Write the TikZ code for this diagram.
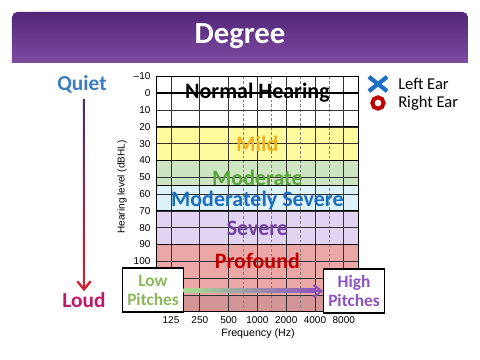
\documentclass[tikz,border=0pt]{standalone}
\usepackage{fontspec}
\setmainfont{Carlito}
\newfontfamily\arialfont{Liberation Sans}
\usetikzlibrary{arrows.meta,positioning,calc,shapes.misc}

\definecolor{titletop}{HTML}{522677}
\definecolor{titlebot}{HTML}{7E4BA1}
\definecolor{quietblue}{HTML}{3A7CC0}
\definecolor{loudred}{HTML}{C0186A}
\definecolor{arrowtop}{HTML}{4A2A6E}
\definecolor{arrowmid}{HTML}{D8B4D6}
\definecolor{arrowbot}{HTML}{D42030}
\definecolor{mildfill}{HTML}{FFFA9C}
\definecolor{mildtext}{HTML}{F2B01E}
\definecolor{modfill}{HTML}{CDE6C1}
\definecolor{modtext}{HTML}{5AA33E}
\definecolor{msfill}{HTML}{DDF2FB}
\definecolor{mstext}{HTML}{1B6DC1}
\definecolor{sevfill}{HTML}{E2D3F1}
\definecolor{sevtext}{HTML}{7141A3}
\definecolor{proffill}{HTML}{EBA6A6}
\definecolor{proftext}{HTML}{C00000}
\definecolor{lowgreen}{HTML}{8CB85A}
\definecolor{highpurple}{HTML}{8E52C0}
\definecolor{legblue}{HTML}{1F6FC5}

\begin{document}
\begin{tikzpicture}[
    x=0.75pt, y=-0.75pt,
    gridline/.style={draw=black!80, line width=0.5pt},
    halfline/.style={draw=black!50, line width=0.5pt, dash pattern=on 2pt off 1.5pt},
    bandbox/.style={draw=black, line width=0.9pt},
    bandlabel/.style={font=\bfseries\fontsize{16.5}{18}\selectfont, inner sep=0pt},
    tick/.style={font=\arialfont\fontsize{7.5}{9}\selectfont, inner sep=1pt},
    sidelabel/.style={font=\bfseries\fontsize{16}{18}\selectfont, inner sep=0pt},
    pitchbox/.style={draw=black, fill=white, line width=0.8pt, minimum width=45pt, minimum height=33pt, align=center, font=\bfseries\fontsize{13}{14.3}\selectfont},
    legendtext/.style={font=\fontsize{12.4}{14}\selectfont, inner sep=0pt}
]
\useasboundingbox (0,0) rectangle (480,360);

% title bar
\shade[top color=titletop, bottom color=titlebot] (12,63) [rounded corners=4pt] -- (12,12) -- (468,12) [sharp corners] -- (468,63) -- cycle;
\node[text=white, font=\bfseries\fontsize{23}{26}\selectfont] (title) at (240,36) {Degree};

% bands
\fill[white] (156.6,76.5) rectangle (358.2,126.9);
\fill[mildfill] (156.6,126.9) rectangle (358.2,160.5);
\fill[modfill] (156.6,160.5) rectangle (358.2,185.7);
\fill[msfill] (156.6,185.7) rectangle (358.2,210.9);
\fill[sevfill] (156.6,210.9) rectangle (358.2,244.5);
\fill[proffill] (156.6,244.5) rectangle (358.2,311.7);
\fill[proffill!90!black] (156.6,294.9) rectangle (358.2,311.7);

% grid
\foreach \k in {0,...,6}
  \draw[gridline] ({171+28.8*\k},76.5) -- ({171+28.8*\k},311.7);
\foreach \k in {2.5,3.5,4.5,5.5}
  \draw[halfline] ({171+28.8*\k},76.5) -- ({171+28.8*\k},311.7);
\foreach \db in {10,20,...,120}
  \draw[gridline] (156.6,{93.3+1.68*\db}) -- (358.2,{93.3+1.68*\db});
\draw[black, line width=1.2pt] (156.6,93.3) -- (358.2,93.3);

\draw[bandbox] (156.6,126.9) rectangle (358.2,160.5);
\draw[bandbox] (156.6,160.5) rectangle (358.2,185.7);
\draw[bandbox] (156.6,185.7) rectangle (358.2,210.9);
\draw[bandbox] (156.6,210.9) rectangle (358.2,244.5);
\draw[bandbox] (156.6,244.5) rectangle (358.2,311.7);
\draw[black, line width=1pt] (156.6,76.5) rectangle (358.2,311.7);

% band names
\node[bandlabel, text=black] (normal) at (257.4,93) {Normal Hearing};
\node[bandlabel, text=mildtext] (mild) at (257.4,144) {Mild};
\node[bandlabel, text=modtext] (moderate) at (257.4,178) {Moderate};
\node[bandlabel, text=mstext] (modsevere) at (257.4,201) {Moderately Severe};
\node[bandlabel, text=sevtext] (severe) at (257.4,228) {Severe};
\node[bandlabel, text=proftext] (profound) at (257.4,261) {Profound};

% axes
\node[tick, anchor=east] (dbneg) at (152,76.5) {–10};
\foreach \db in {0,10,...,100}
  \node[tick, anchor=east] at (152,{93.3+1.68*\db}) {\db};
\foreach \f [count=\k from 0] in {125,250,500,1000,2000,4000,8000}
  \node[tick] at ({171+28.8*\k},320) {\f};
\node[tick, rotate=90] (ylabel) at (122,187) {Hearing level (dBHL)};
\node[tick, font=\arialfont\fontsize{8}{9}\selectfont] (xlabel) at (258,334) {Frequency (Hz)};

% quiet / loud
\node[sidelabel, text=quietblue] (quiet) at (82,84) {Quiet};
\node[sidelabel, text=loudred] (loud) at (84,300) {Loud};
\shade[top color=arrowtop, middle color=arrowmid, bottom color=arrowbot]
  ($(quiet.south -| loud.north)+(-1,6)$) rectangle ($(loud.north)+(1,-10)$);
\draw[arrowbot, line width=1.8pt, -{Straight Barb[length=6pt, width=10pt]}]
  ($(loud.north)+(0,-14)$) -- ($(loud.north)+(0,-1)$);

% pitches
\node[pitchbox, text=lowgreen] (lowbox) at (153,290) {Low\\Pitches};
\node[pitchbox, text=highpurple] (highbox) at (354,291) {High\\Pitches};
\shade[left color=lowgreen!80!green!60, middle color=white!88!gray, right color=highpurple]
  ($(lowbox.east)+(0,-1.8)$) rectangle ($(highbox.west)+(-8,1.8)$);
\draw[highpurple, line width=1.6pt, -{Straight Barb[length=6pt, width=9pt]}]
  ($(highbox.west)+(-12,0)$) -- (highbox.west);

% legend
\node[cross out, draw=legblue, line width=3.2pt, minimum width=10.5pt, minimum height=7.5pt, inner sep=0pt] (leftmark) at (378,84) {};
\node[circle, draw=proftext, line width=3pt, minimum size=8.5pt, inner sep=0pt] (rightmark) at (378,103) {};
\node[legendtext, anchor=west] (lefttext) at (398,84) {Left Ear};
\node[legendtext, anchor=west] (righttext) at (398,103) {Right Ear};
\end{tikzpicture}
\end{document}
